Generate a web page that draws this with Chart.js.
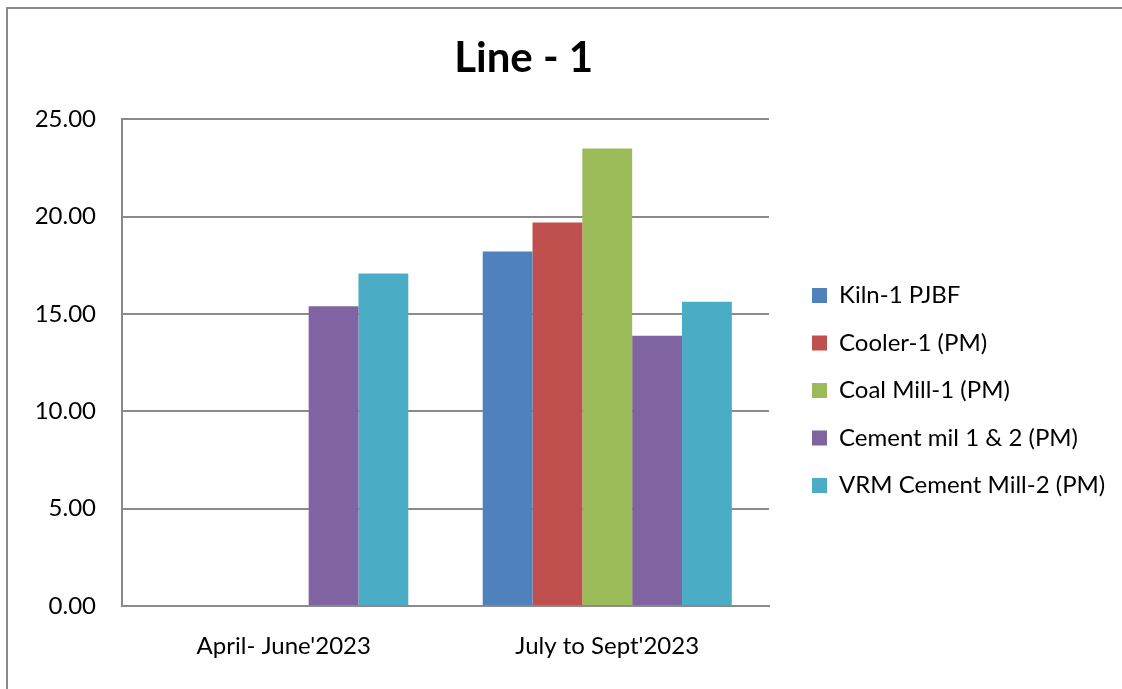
<!DOCTYPE html>
<html>
<head>
<meta charset="utf-8">
<script src="https://cdn.jsdelivr.net/npm/chart.js@4.4.1/dist/chart.umd.min.js"></script>
<style>
  html, body { margin: 0; padding: 0; width: 1122px; height: 689px; overflow: hidden; background: #fff; }
  #frame { position: absolute; left: 6px; top: 7px; width: 2000px; height: 2000px;
           border-left: 2px solid #8a8a8a; border-top: 2px solid #8a8a8a; }
  #wrap { position: absolute; left: -76px; top: 0; width: 1198px; height: 781px; }
</style>
</head>
<body>
<div id="frame"></div>
<div id="wrap"><canvas id="c" width="1198" height="781"></canvas></div>
<script>
const chartTitle = "Line - 1";
const categories = ["April- June'2023", "July to Sept'2023"];
const seriesNames = ["Kiln-1 PJBF", "Cooler-1 (PM)", "Coal Mill-1 (PM)", "Cement mil 1 & 2 (PM)", "VRM Cement Mill-2 (PM)"];
const kiln1 = [0, 18.21];
const cooler1 = [0, 19.70];
const coalMill1 = [0, 23.50];
const cementMill12 = [15.40, 13.88];
const vrmCementMill2 = [17.08, 15.63];
const seriesColors = ["#4F81BD", "#C0504D", "#9BBB59", "#8064A2", "#4BACC6"];
const yTicks = [0, 5, 10, 15, 20, 25];

const seriesValues = [kiln1, cooler1, coalMill1, cementMill12, vrmCementMill2];

Chart.defaults.font.family = "Lato";
Chart.defaults.color = "#000";

// layout helpers (page geometry)
const offsetX = 76;
const legendFont = 24;
const legendPad = 47.5 - legendFont;
const boxW = 15;
const mctx = document.createElement('canvas').getContext('2d');
mctx.font = legendFont + 'px Lato';
const textW = Math.max(...seriesNames.map(s => mctx.measureText(s).width));
const legendWidth = legendPad + boxW + legendFont / 2 + textW + 10;
const legendLeft = 812 + offsetX - legendPad;
let padRight = Math.max(0, 1198 - legendLeft - legendWidth);
let padLeft = padRight + 1.4;
const plotLeft = 122 + offsetX, plotRight = 769 + offsetX;

new Chart(document.getElementById('c'), {
  type: 'bar',
  data: {
    labels: categories,
    datasets: seriesNames.map((n, i) => ({
      label: n,
      data: seriesValues[i],
      backgroundColor: seriesColors[i],
      borderWidth: 0,
      barPercentage: 1,
      categoryPercentage: 0.77
    }))
  },
  options: {
    responsive: false,
    animation: false,
    devicePixelRatio: 1,
    layout: { padding: { left: padLeft, right: padRight, top: 0, bottom: 0 } },
    plugins: {
      title: {
        display: true,
        text: chartTitle,
        font: { family: 'Lato', size: 42, weight: 'bold' },
        color: '#000',
        padding: { top: 33, bottom: 36 }
      },
      legend: {
        position: 'right',
        align: 'center',
        maxWidth: 1000,
        labels: {
          boxWidth: boxW,
          boxHeight: 15,
          padding: legendPad,
          font: { size: legendFont },
          color: '#000'
        }
      },
      tooltip: { enabled: false }
    },
    scales: {
      x: {
        grid: { display: false, drawTicks: false },
        border: { display: true, color: '#8a8a8a', width: 2 },
        ticks: { font: { size: 24 }, color: '#000', padding: 26 },
        afterFit: s => { s.height = 781 - 606; }
      },
      y: {
        min: 0, max: 25,
        afterBuildTicks: s => { s.ticks = yTicks.map(v => ({ value: v })); },
        ticks: { font: { size: 24 }, color: '#000', padding: 26, callback: v => Number(v).toFixed(2) },
        grid: { color: '#8a8a8a', lineWidth: 2, drawTicks: false },
        border: { display: true, color: '#8a8a8a', width: 2 },
        afterFit: s => { s.width = plotLeft - padLeft; }
      },
      gap: {
        position: 'right',
        display: true,
        grid: { display: false, drawTicks: false },
        border: { display: false },
        ticks: { display: false },
        afterFit: s => { s.width = legendLeft - plotRight; }
      }
    }
  }
});
</script>
</body>
</html>
